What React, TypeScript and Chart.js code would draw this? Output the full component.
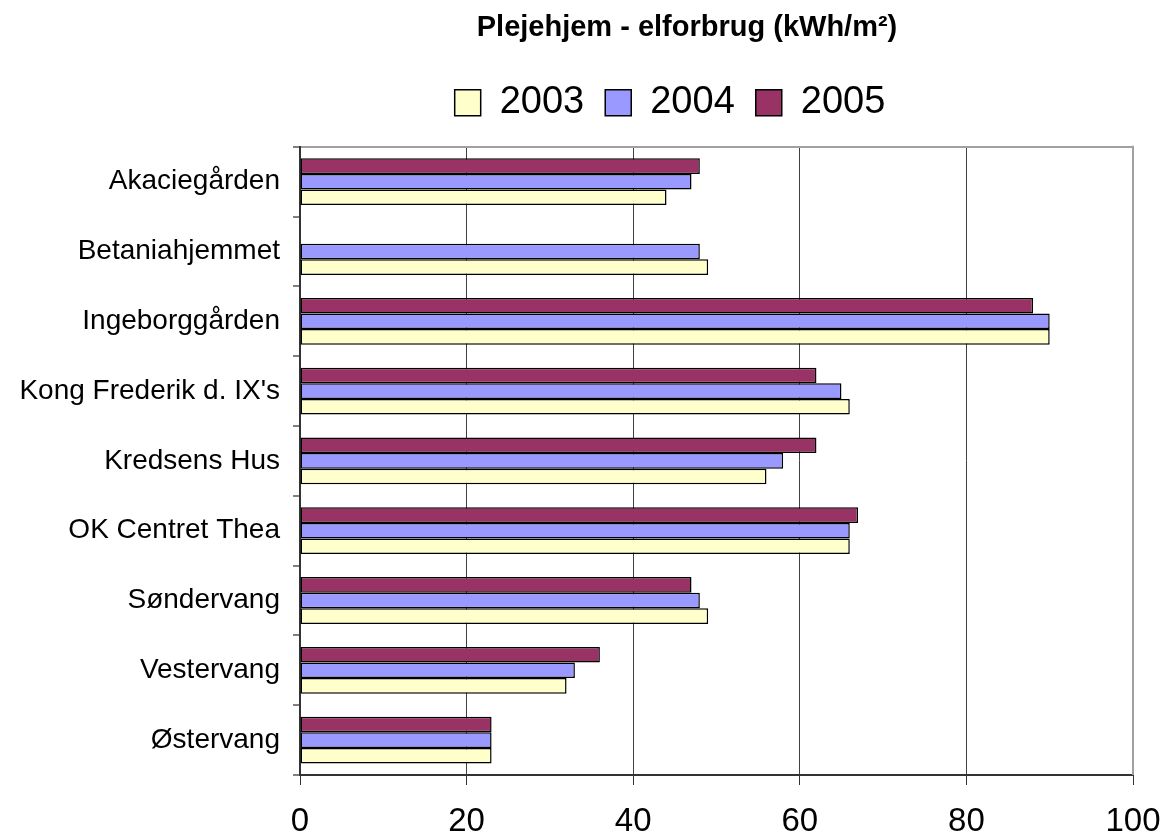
import React, { useEffect, useRef } from "react";
import { Chart, registerables } from "chart.js";

Chart.register(...registerables);

const TITLE = "Plejehjem - elforbrug (kWh/m²)";
const categories = [
  "Akaciegården",
  "Betaniahjemmet",
  "Ingeborggården",
  "Kong Frederik d. IX's",
  "Kredsens Hus",
  "OK Centret Thea",
  "Søndervang",
  "Vestervang",
  "Østervang",
];
const seriesNames = ["2003", "2004", "2005"];
const values2003 = [44, 49, 90, 66, 56, 66, 49, 32, 23];
const values2004 = [47, 48, 90, 65, 58, 66, 48, 33, 23];
const values2005 = [48, null, 88, 62, 62, 67, 47, 36, 23];
const xTicks = [0, 20, 40, 60, 80, 100];

const colors = ["#FFFFCC", "#9999FF", "#993366"];

const TITLE_DX = 107;
const LEGEND_DX = 90;

const shiftPlugin = {
  id: "shiftHeader",
  afterLayout(chart: any) {
    const t = chart.titleBlock;
    if (t) {
      t.left += TITLE_DX;
      t.right += TITLE_DX;
    }
    const l = chart.legend;
    if (l) {
      l.left += LEGEND_DX;
      l.right += LEGEND_DX;
    }
  },
};

const frameRightPlugin = {
  id: "frameRight",
  beforeDatasetsDraw(chart: any) {
    const { ctx, chartArea } = chart;
    ctx.save();
    ctx.strokeStyle = "#a0a0a0";
    ctx.lineWidth = 2;
    ctx.beginPath();
    ctx.moveTo(chartArea.right, chartArea.top - 1);
    ctx.lineTo(chartArea.right, chartArea.bottom);
    ctx.stroke();
    ctx.restore();
  },
};

export default function App() {
  const ref = useRef<HTMLCanvasElement | null>(null);

  useEffect(() => {
    if (!ref.current) return;
    const series = [values2003, values2004, values2005];
    // top-to-bottom within a group: 2005, 2004, 2003
    const datasets = [2, 1, 0].map((i) => ({
      label: seriesNames[i],
      data: series[i],
      backgroundColor: colors[i],
      borderColor: "#000000",
      borderWidth: 1.5,
      borderSkipped: false as const,
      categoryPercentage: 0.67,
      barPercentage: 1.0,
    }));

    const chart = new Chart(ref.current, {
      type: "bar",
      data: { labels: categories, datasets },
      plugins: [shiftPlugin, frameRightPlugin],
      options: {
        indexAxis: "y",
        animation: false,
        responsive: false,
        events: [],
        layout: { padding: 0 },
        plugins: {
          title: {
            display: true,
            text: TITLE,
            color: "#000000",
            font: { family: "'Liberation Sans', Arial, sans-serif", size: 29, weight: "bold" },
            padding: { top: 11, bottom: 17 },
          },
          legend: {
            display: true,
            position: "top",
            reverse: true,
            labels: {
              color: "#000000",
              font: { family: "'Liberation Sans', Arial, sans-serif", size: 38 },
              boxWidth: 26,
              boxHeight: 26,
              padding: 21,
            },
          },
          tooltip: { enabled: false },
        },
        scales: {
          x: {
            type: "linear",
            position: "bottom",
            min: 0,
            max: 100,
            afterBuildTicks: (s: any) => {
              s.ticks = xTicks.map((v) => ({ value: v }));
            },
            ticks: {
              color: "#000000",
              font: { family: "'Liberation Sans', Arial, sans-serif", size: 33 },
              padding: 17,
              maxRotation: 0,
            },
            grid: {
              color: (c: any) =>
                c.tick && (c.tick.value === 0 || c.tick.value === 100) ? "rgba(0,0,0,0)" : "#404040",
              tickColor: "#333333",
              tickLength: 10,
              lineWidth: 1,
            },
            border: { display: true, color: "#333333", width: 2 },
            afterFit: (s: any) => {
              s.height = 59;
              s.paddingRight = 27;
              s.paddingLeft = 0;
            },
          },
          x2: {
            type: "linear",
            position: "top",
            min: 0,
            max: 100,
            ticks: { display: false },
            grid: { display: false, drawTicks: false },
            border: { display: true, color: "#a0a0a0", width: 2 },
            afterFit: (s: any) => {
              s.height = 15;
              s.paddingRight = 0;
              s.paddingLeft = 0;
            },
          },
          y: {
            type: "category",
            position: "left",
            ticks: {
              color: "#000000",
              font: { family: "'Liberation Sans', Arial, sans-serif", size: 28 },
              padding: 13,
            },
            grid: {
              offset: true,
              drawOnChartArea: false,
              color: "#808080",
              tickLength: 7,
              lineWidth: 2,
            },
            border: { display: true, color: "#333333", width: 2 },
            afterFit: (s: any) => {
              s.width = 300;
            },
          },
        },
      },
    } as any);

    return () => chart.destroy();
  }, []);

  return (
    <div style={{ position: "fixed", left: 0, top: 0, width: 1160, height: 834, background: "#ffffff" }}>
      <canvas ref={ref} width={1160} height={834} style={{ display: "block" }} />
    </div>
  );
}
